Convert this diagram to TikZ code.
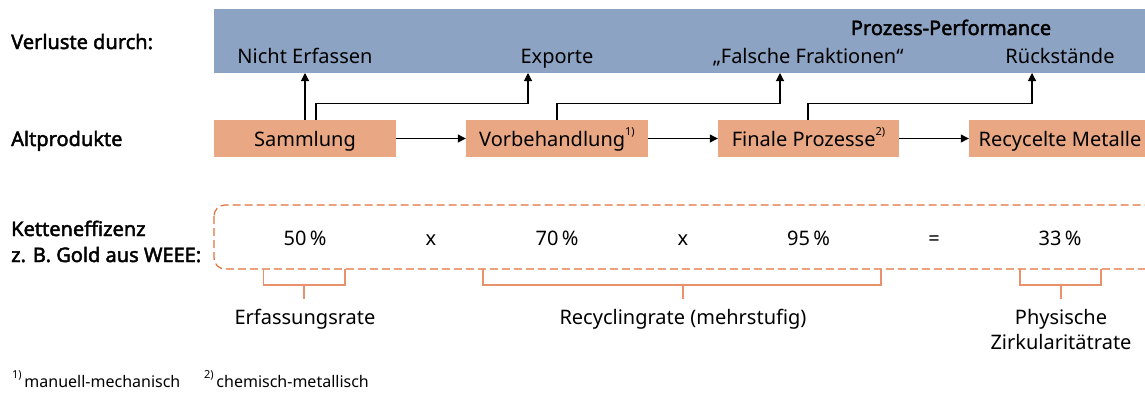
\documentclass[tikz,border=0pt]{standalone}
\usepackage{fontspec}
\setmainfont{Noto Sans}[AutoFakeBold=2.2]
\usetikzlibrary{arrows.meta}
\definecolor{lossblue}{HTML}{8CA3C3}
\definecolor{procorange}{HTML}{E9A883}
\definecolor{dashred}{HTML}{E0703E}
\definecolor{brackc}{HTML}{E8916C}
\tikzset{
  lbl/.style={anchor=base west,inner sep=0pt,font=\fontsize{20}{24}\selectfont\bfseries},
  txt/.style={anchor=base,inner sep=0pt,font=\fontsize{20}{24}\selectfont},
  fn/.style={anchor=base west,inner sep=0pt,font=\fontsize{16}{19}\selectfont},
  procbox/.style={fill=procorange,draw=none,minimum width=182pt,minimum height=37pt,inner sep=0pt,text height=17pt,text depth=2pt,font=\fontsize{20}{24}\selectfont},
  arr/.style={draw=black,line width=1.1pt,-{Triangle[width=8pt,length=8pt]}},
  conn/.style={draw=black!85,line width=1.1pt},
  dashbox/.style={draw=dashred,line width=1.2pt,dash pattern=on 8pt off 4pt,rounded corners=11pt},
  brack/.style={draw=brackc,line width=1.4pt},
}
\newcommand{\sups}[1]{\raisebox{0.55em}{\fontsize{11}{12}\selectfont #1}}
\begin{document}
\begin{tikzpicture}[x=1pt,y=-1pt]
\useasboundingbox (0,0) rectangle (1145,394);
\clip (0,0) rectangle (1145,394);
% loss band
\node[fill=lossblue,draw=none,minimum width=940pt,minimum height=64pt,inner sep=0pt,anchor=north west] (loss) at (214,9) {};
\node[txt,font=\fontsize{20}{24}\selectfont\bfseries] (pp) at (951,35) {Prozess-Performance};
\node[txt] (ne) at (305,63) {Nicht Erfassen};
\node[txt] (ex) at (557,63) {Exporte};
\node[txt] (fr) at (808,63) {„Falsche Fraktionen“};
\node[txt] (rs) at (1060,63) {Rückstände};
% left labels
\node[lbl] (l1) at (11,49) {Verluste durch:};
\node[lbl] (l2) at (11,146) {Altprodukte};
\node[lbl] (l3) at (11,236) {Ketteneffizenz};
\node[lbl] (l4) at (11,262) {z. B. Gold aus WEEE:};
% process boxes
\node[procbox] (samm) at (305,138.5) {Sammlung};
\node[procbox] (vorb) at (557,138.5) {Vorbehandlung\sups{1)}};
\node[procbox,minimum width=181pt] (fin) at (808.5,138.5) {Finale Prozesse\sups{2)}};
\node[procbox] (rec) at (1060,138.5) {Recycelte Metalle};
% horizontal arrows
\draw[arr] (samm.east) -- (vorb.west);
\draw[arr] (vorb.east) -- (fin.west);
\draw[arr] (fin.east) -- (rec.west);
% loss arrows
\coordinate (tN) at (305,73);
\coordinate (tE) at (528,73);
\coordinate (tF) at (780,73);
\coordinate (tR) at (1032,73);
\draw[arr] (samm.north) -- (tN);
\draw[arr] ([xshift=11pt]samm.north) -- ++(0,-16) -| (tE);
\draw[arr] (vorb.north) -- ++(0,-16) -| (tF);
\draw[arr] ([xshift=-0.5pt]fin.north) -- ++(0,-16) -| (tR);
% dashed efficiency box
\draw[dashbox] (214,205) rectangle (1160,269);
\node[txt] (v1) at (305,245) {50\,\%};
\node[txt] (m1) at (431,245) {x};
\node[txt] (v2) at (557,245) {70\,\%};
\node[txt] (m2) at (683,245) {x};
\node[txt] (v3) at (808.5,245) {95\,\%};
\node[txt] (eq) at (934,245) {=};
\node[txt] (v4) at (1060,245) {33\,\%};
% brackets
\draw[brack] (263.5,269) -- (263.5,285) -- (345,285) -- (345,269);
\draw[brack] (304,285) -- (304,299);
\draw[brack] (483,269) -- (483,285) -- (881,285) -- (881,269);
\draw[brack] (683,285) -- (683,299);
\draw[brack] (1020,269) -- (1020,285) -- (1101,285) -- (1101,269);
\draw[brack] (1061,285) -- (1061,299);
\node[txt] (b1) at (305,324) {Erfassungsrate};
\node[txt] (b2) at (683,324) {Recyclingrate (mehrstufig)};
\node[txt] (b3) at (1061,324) {Physische};
\node[txt] (b4) at (1061,349) {Zirkularitätrate};
% footnotes
\node[fn] (f1) at (12,387) {\sups{1)}\,manuell-mechanisch};
\node[fn] (f2) at (204,387) {\sups{2)}\,chemisch-metallisch};
\end{tikzpicture}
\end{document}
